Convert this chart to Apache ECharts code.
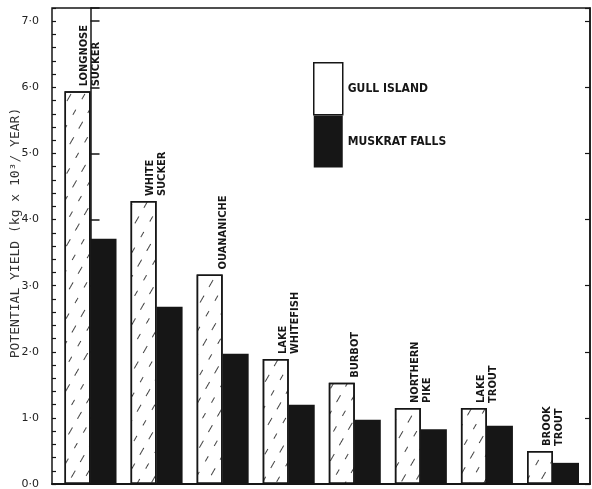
<!DOCTYPE html>
<html><head><meta charset="utf-8">
<script src="https://cdn.jsdelivr.net/npm/echarts@6/dist/echarts.min.js"></script>
<style>html,body{margin:0;padding:0;background:#fff}#c{width:592px;height:489px}</style>
</head><body><div id="c"></div>
<script>
var categories = ['LONGNOSE\nSUCKER','WHITE\nSUCKER','OUANANICHE','LAKE\nWHITEFISH','BURBOT','NORTHERN\nPIKE','LAKE\nTROUT','BROOK\nTROUT'];
var gullIsland = [5.94, 4.28, 3.17, 1.89, 1.53, 1.15, 1.15, 0.50];
var muskratFalls = [3.71, 2.68, 1.97, 1.20, 0.97, 0.83, 0.88, 0.32];
var seriesNames = ['GULL ISLAND', 'MUSKRAT FALLS'];
var yTickValues = [0, 1, 2, 3, 4, 5, 6, 7];
var yAxisTitle = 'POTENTIAL YIELD (kg x 10\u00b3/ YEAR)';

var ink = '#161616';
var chart = echarts.init(document.getElementById('c'));
function pairs(arr){ return arr.map(function(v,i){ return [i, v]; }); }

chart.setOption({
  backgroundColor: '#fff',
  animation: false,
  grid: { left: 52, right: 2, top: 8, bottom: 5, containLabel: false, outerBoundsMode: 'none',
          show: true, borderColor: ink, borderWidth: 1.5, backgroundColor: 'transparent' },
  legend: {
    data: [
      { name: seriesNames[0], itemStyle: { color: '#fff', borderColor: ink, borderWidth: 1.5, decal: 'none' } },
      { name: seriesNames[1], itemStyle: { color: ink } }
    ],
    orient: 'vertical', left: 313, top: 62, itemWidth: 29, itemHeight: 52, itemGap: 0, padding: 0,
    icon: 'rect', selectedMode: false,
    textStyle: { fontFamily: 'DejaVu Sans Condensed', fontWeight: 'bold', fontSize: 12, color: ink }
  },
  xAxis: {
    type: 'value', min: -0.583, max: 7.56,
    axisLine: { show: true, lineStyle: { color: ink, width: 2 } },
    axisTick: { show: false }, axisLabel: { show: false }, splitLine: { show: false }
  },
  yAxis: [
    {
      type: 'value', position: 'left', min: 0, max: 7.2, interval: 1,
      name: yAxisTitle, nameLocation: 'middle', nameGap: 30, nameMoveOverlap: false,
      nameTextStyle: { fontFamily: 'DejaVu Sans Mono', fontSize: 13, color: '#333', padding: [0, 0, 0, 26] },
      axisLine: { show: true, lineStyle: { color: ink, width: 1.5 } },
      axisTick: { show: true, inside: true, length: 9, lineStyle: { color: ink, width: 1.5 } },
      axisLabel: {
        margin: 13, fontFamily: 'DejaVu Sans', fontSize: 11, color: '#222',
        formatter: function(v){ return yTickValues.indexOf(v) >= 0 ? v.toFixed(1).replace('.', '\u00b7') : ''; }
      },
      splitLine: { show: false }
    },
    {
      type: 'value', position: 'left', min: 0, max: 7.2, interval: 0.2,
      axisLine: { show: false },
      axisTick: { show: true, inside: true, length: 4, lineStyle: { color: ink, width: 1.2 } },
      axisLabel: { show: false }, splitLine: { show: false }
    },
    {
      type: 'value', position: 'right', min: 0, max: 7.2, interval: 1,
      axisLine: { show: true, lineStyle: { color: ink, width: 1.5 } },
      axisTick: { show: true, inside: true, length: 5, lineStyle: { color: ink, width: 1.2 } },
      axisLabel: { show: false }, splitLine: { show: false }
    }
  ],
  series: [
    {
      name: seriesNames[0], type: 'bar', yAxisIndex: 0, data: pairs(gullIsland),
      barWidth: 26, barGap: 0,
      itemStyle: {
        color: '#fff', borderColor: ink, borderWidth: 1.5,
        decal: { symbol: 'rect', color: 'rgba(20,20,20,0.8)', dashArrayX: [[8, 10], [0, 9, 6, 3]], dashArrayY: [1, 11], rotation: -Math.PI / 3, symbolSize: 1 }
      },
      label: {
        show: true, position: 'top', distance: 5, rotate: 90, align: 'left', verticalAlign: 'middle',
        offset: [0, 13], lineHeight: 12,
        fontFamily: 'DejaVu Sans Condensed', fontWeight: 'bold', fontSize: 11, color: ink,
        formatter: function(p){ return categories[p.dataIndex]; }
      }
    },
    {
      name: seriesNames[1], type: 'bar', yAxisIndex: 0, data: pairs(muskratFalls),
      barWidth: 26, barGap: 0,
      itemStyle: { color: ink }
    }
  ]
});
</script></body></html>
